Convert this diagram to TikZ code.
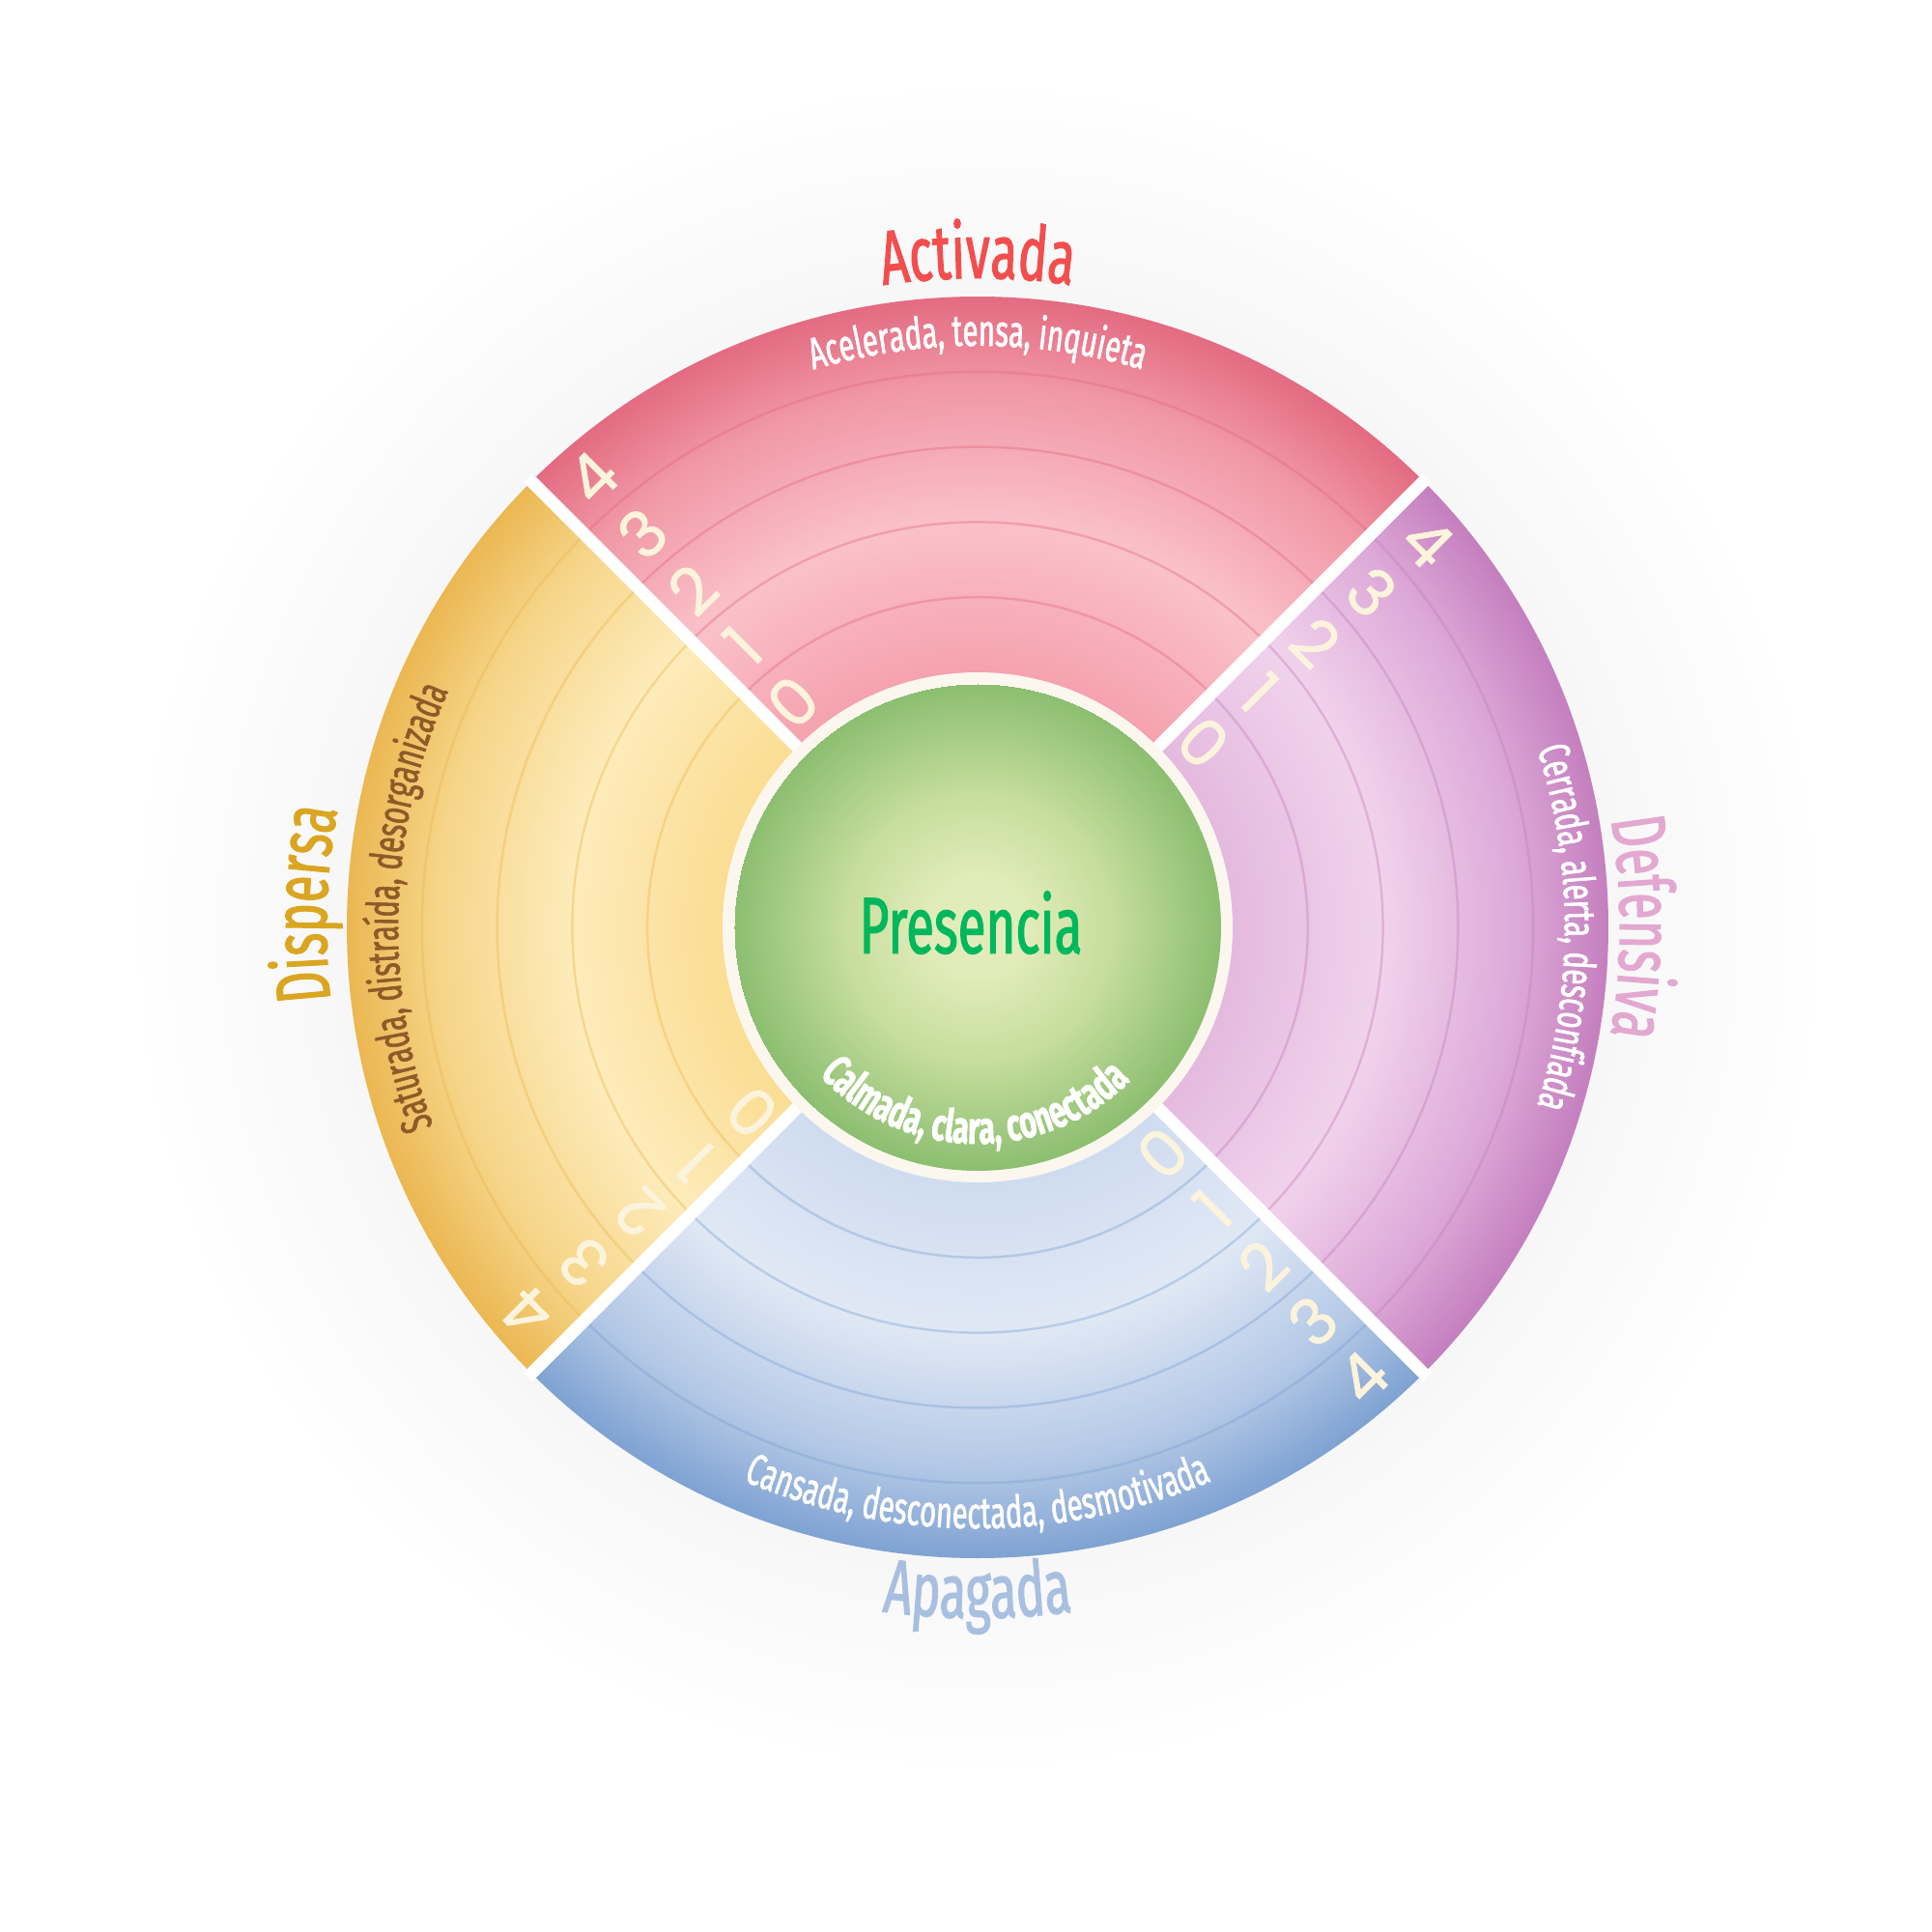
\documentclass[tikz,border=0pt]{standalone}
\usepackage{fontspec}
\usetikzlibrary{decorations.text}
\newfontfamily\condfont[FakeStretch=0.64, FakeBold=1.4]{Fira Sans}
\newfontfamily\digitfont[FakeBold=1.2]{Poppins}
\newcommand\wheelTitle{\condfont\fontsize{22.5}{26}\selectfont}
\newcommand\wheelCentre{\condfont\fontsize{23.5}{27}\selectfont}
\newcommand\wheelSub{\condfont\fontsize{13}{15}\selectfont}
\newcommand\wheelCore{\condfont\bfseries\fontsize{13.4}{15}\selectfont}
\newcommand\wheelNum{\digitfont\fontsize{19}{22}\selectfont}
\definecolor{actIn}{HTML}{F5A2AE}
\definecolor{actMid}{HTML}{FAC1C9}
\definecolor{actRim}{HTML}{F198A6}
\definecolor{actOut}{HTML}{E36B81}
\definecolor{actTitle}{HTML}{F24E4E}
\definecolor{defIn}{HTML}{E4BADF}
\definecolor{defMid}{HTML}{F0D2EC}
\definecolor{defRim}{HTML}{DDA9D8}
\definecolor{defOut}{HTML}{C47FBE}
\definecolor{defTitle}{HTML}{E3A8D0}
\definecolor{apgIn}{HTML}{CFDCF0}
\definecolor{apgMid}{HTML}{E0E8F5}
\definecolor{apgRim}{HTML}{B3C8E6}
\definecolor{apgOut}{HTML}{7EA2D2}
\definecolor{apgTitle}{HTML}{A8BFE0}
\definecolor{dspIn}{HTML}{FBDD93}
\definecolor{dspMid}{HTML}{FDEBBA}
\definecolor{dspRim}{HTML}{F6D589}
\definecolor{dspOut}{HTML}{EBB752}
\definecolor{dspTitle}{HTML}{DAA520}
\definecolor{dspSub}{HTML}{8F5A28}
\definecolor{grnIn}{HTML}{E2ECBA}
\definecolor{grnMid}{HTML}{C5DD9D}
\definecolor{grnOut}{HTML}{8CBE70}
\definecolor{presGreen}{HTML}{00B85C}
\definecolor{ringCream}{HTML}{FBF7EE}
\definecolor{numCream}{HTML}{FBF3DC}
\definecolor{haloGray}{HTML}{F7F7F7}
\pgfdeclareradialshading{actShade}{\pgfpoint{0cm}{0cm}}{color(0cm)=(actIn); color(2.64cm)=(actIn); color(4.2cm)=(actMid); color(5.6cm)=(actRim); color(6.53cm)=(actOut); color(6.6cm)=(actOut)}
\pgfdeclareradialshading{defShade}{\pgfpoint{0cm}{0cm}}{color(0cm)=(defIn); color(2.64cm)=(defIn); color(4.2cm)=(defMid); color(5.6cm)=(defRim); color(6.53cm)=(defOut); color(6.6cm)=(defOut)}
\pgfdeclareradialshading{apgShade}{\pgfpoint{0cm}{0cm}}{color(0cm)=(apgIn); color(2.64cm)=(apgIn); color(4.2cm)=(apgMid); color(5.6cm)=(apgRim); color(6.53cm)=(apgOut); color(6.6cm)=(apgOut)}
\pgfdeclareradialshading{dspShade}{\pgfpoint{0cm}{0cm}}{color(0cm)=(dspIn); color(2.64cm)=(dspIn); color(4.2cm)=(dspMid); color(5.6cm)=(dspRim); color(6.53cm)=(dspOut); color(6.6cm)=(dspOut)}
\pgfdeclareradialshading{grnShade}{\pgfpoint{0cm}{0cm}}{color(0cm)=(grnIn); color(0.5cm)=(grnIn); color(1.4cm)=(grnMid); color(2.52cm)=(grnOut)}
\pgfdeclareradialshading{haloShade}{\pgfpoint{0cm}{0cm}}{color(0cm)=(haloGray); color(6.6cm)=(haloGray); color(8.8cm)=(white); color(10.5cm)=(white)}
\tikzset{
  wheelGap/.style={draw=white, line width=1.3mm},
  bandLine/.style={line width=0.7pt, draw opacity=0.4},
  levelNum/.style={font=\wheelNum, text=numCream, inner sep=0pt},
  shadeFill/.style={inner sep=0pt, outer sep=0pt},
  curvedText/.style={decorate, decoration={text along path, text align=center}}
}
\begin{document}
\begin{tikzpicture}
  \fill[white] (-10.12,-10.4) rectangle (9.88,9.6);
  \useasboundingbox (-10.12,-10.4) rectangle (9.88,9.6);
  \begin{scope}
    \clip (-10.12,-10.4) rectangle (9.88,9.6);
    \node[shadeFill] (halo) at (0,0) {\pgfuseshading{haloShade}};
  \end{scope}
  % four mood sectors with five levels each
  \foreach \a/\secShade/\lc in {45/actShade/actOut, 135/dspShade/dspOut,
      225/apgShade/apgOut, -45/defShade/defOut} {
    \begin{scope}
      \clip (\a:2.6) arc[start angle=\a, end angle=\a+90, radius=2.6]
        -- (\a+90:6.53) arc[start angle=\a+90, end angle=\a, radius=6.53] -- cycle;
      \node[shadeFill] (fill-\a) at (0,0) {\pgfuseshading{\secShade}};
      \foreach \k in {1,...,4}
        \draw[bandLine, \lc] (0,0) circle ({2.64+0.778*\k});
    \end{scope}
  }
  \foreach \g in {45,135,225,315}
    \draw[wheelGap] (\g:2.4) -- (\g:6.58);
  % centre
  \fill[ringCream] (0,0) circle (2.64);
  \begin{scope}
    \clip (0,0) circle (2.52);
    \node[shadeFill] (core) at (0,0) {\pgfuseshading{grnShade}};
  \end{scope}
  \node[font=\wheelCentre, text=presGreen] (presencia) at (-0.07,0.05) {Presencia};
  \path[curvedText, decoration={text color=white, text={|\wheelCore|Calmada, clara, conectada}}]
    (185:2.24) arc[start angle=185, end angle=353, radius=2.24];
  % level numbers
  \foreach \sec/\edge/\rot in {act/135/45, def/45/-45, apg/315/45, dsp/225/135} {
    \foreach \n in {0,...,4} {
      \pgfmathsetmacro{\rr}{3.02+0.778*\n}
      \pgfmathsetmacro{\ang}{\edge-3.2-7.5/\rr}
      \node[levelNum, rotate=\rot] (\sec-\n) at (\ang:\rr) {\n};
    }
  }
  % titles and descriptions
  \path[curvedText, decoration={text color=actTitle, text={|\wheelTitle|Activada}}]
    (150:6.72) arc[start angle=150, end angle=30, radius=6.72];
  \path[curvedText, decoration={text color=white, text={|\wheelSub|Acelerada, tensa, inquieta}}]
    (150:6.02) arc[start angle=150, end angle=30, radius=6.02];
  \path[curvedText, decoration={text color=defTitle, text={|\wheelTitle|Defensiva}}]
    (30:6.65) arc[start angle=30, end angle=-30, radius=6.65];
  \path[curvedText, decoration={text color=white, text={|\wheelSub|Cerrada, alerta, desconfiada}}]
    (35:6.08) arc[start angle=35, end angle=-35, radius=6.08];
  \path[curvedText, decoration={text color=apgTitle, text={|\wheelTitle|Apagada}}]
    (230:7.15) arc[start angle=230, end angle=310, radius=7.15];
  \path[curvedText, decoration={text color=white, text={|\wheelSub|Cansada, desconectada, desmotivada}}]
    (200:6.22) arc[start angle=200, end angle=340, radius=6.22];
  \path[curvedText, decoration={text color=dspTitle, text={|\wheelTitle|Dispersa}}]
    (208:6.74) arc[start angle=208, end angle=148, radius=6.74];
  \path[curvedText, decoration={text color=dspSub, text={|\wheelSub|Saturada, distraída, desorganizada}}]
    (215:6.0) arc[start angle=215, end angle=141, radius=6.0];
\end{tikzpicture}
\end{document}
